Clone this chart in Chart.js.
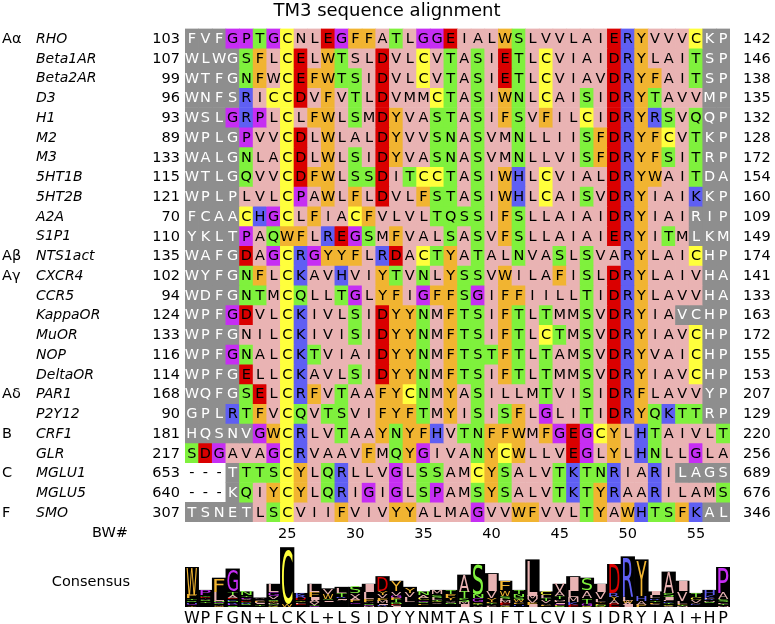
<!DOCTYPE html>
<html>
<head>
<meta charset="utf-8">
<title>TM3 sequence alignment</title>
<script src="https://cdn.jsdelivr.net/npm/chart.js@4.4.1/dist/chart.umd.min.js"></script>
<style>
    body { margin: 0; background: #fff; }
    #wrap { position: relative; width: 775px; height: 624px; }
    canvas { position: absolute; left: 0; top: 0; }
</style>
</head>
<body>
<div id="wrap">
    <canvas id="alignChart" width="775" height="624"></canvas>
    <canvas id="logoChart" width="775" height="624"></canvas>
</div>
<script>
// Alignment data
const receptors = ['RHO', 'Beta1AR', 'Beta2AR', 'D3', 'H1', 'M2', 'M3', '5HT1B', '5HT2B', 'A2A', 'S1P1',
    'NTS1act', 'CXCR4', 'CCR5', 'KappaOR', 'MuOR', 'NOP', 'DeltaOR', 'PAR1', 'P2Y12', 'CRF1', 'GLR',
    'MGLU1', 'MGLU5', 'SMO'];
const families = ['Aα', '', '', '', '', '', '', '', '', '', '', 'Aβ', 'Aγ', '', '', '', '', '', 'Aδ', '',
    'B', '', 'C', '', 'F'];
const startRes = [103, 107, 99, 96, 93, 89, 133, 115, 121, 70, 110, 135, 102, 94, 124, 133, 116, 114, 168, 90,
    181, 217, 653, 640, 307];
const endRes = [142, 146, 138, 135, 132, 128, 172, 154, 160, 109, 149, 174, 141, 133, 163, 172, 155, 153, 207, 129,
    220, 256, 689, 676, 346];
const sequences = [
    'FVFGPTGCNLEGFFATLGGEIALWSLVVLAIERYVVVCKP',
    'WLWGSFLCELWTSLDVLCVTASIETLCVIAIDRYLAITSP',
    'WTFGNFWCEFWTSIDVLCVTASIETLCVIAVDRYFAITSP',
    'WNFSRICCDVFVTLDVMMCTASIWNLCAISIDRYTAVVMP',
    'WSLGRPLCLFWLSMDYVASTASIFSVFILCIDRYRSVQQP',
    'WPLGPVVCDLWLALDYVVSNASVMNLLIISFDRYFCVTKP',
    'WALGNLACDLWLSIDYVASNASVMNLLVISFDRYFSITRP',
    'WTLGQVVCDFWLSSDITCCTASIWHLCVIALDRYWAITDA',
    'WPLPLVLCPAWLFLDVLFSTASIWHLCAISVDRYIAIKKP',
    'FCAACHGCLFIACFVLVLTQSSIFSLLAIAIDRYIAIRIP',
    'YKLTPAQWFLREGSMFVALSASVFSLLAIAIERYITMLKM',
    'WAFGDAGCRGYYFLRDACTYATALNVASLSVARYLAICHP',
    'WYFGNFLCKAVHVIYTVNLYSSVWILAFISLDRYLAIVHA',
    'WDFGNTMCQLLTGLYFIGFFSGIFFIILLTIDRYLAVVHA',
    'WPFGDVLCKIVLSIDYYNMFTSIFTLTMMSVDRYIAVCHP',
    'WPFGNILCKIVISIDYYNMFTSIFTLCTMSVDRYIAVCHP',
    'WPFGNALCKTVIAIDYYNMFTSTFTLTAMSVDRYVAICHP',
    'WPFGELLCKAVLSIDYYNMFTSIFTLTMMSVDRYIAVCHP',
    'WQFGSELCRFVTAAFYCNMYASILLMTVISIDRFLAVVYP',
    'GPLRTFVCQVTSVIFYFTMYISISFLGLITIDRYQKTTRP',
    'HQSNVGWCRLVTAAYNYFHVTNFFWMFGEGCYLHTAIVLT',
    'SDGAVAGCRVAAVFMQYGIVANYCWLLVEGLYLHNLLGLA',
    '---TTTSCYLQRLLVGLSSAMCYSALVTKTNRIARILAGS',
    '---KQIYCYLQRIGIGLSPAMSYSALVTKTYRAARILAMS',
    'TSNETLSCVIIFVIVYYALMAGVVWFVVLTYAWHTSFKAL'
];
// g = unaligned (grey), z = residue class colour, p = uncoloured, . = gap
const shading = [
    'gggzzzzzpz zzzzzzzzzz zzzzzzzzzz zzzzzzzzgg',
    'ggggzzzzzz zzpzzzzzzz zzzzzzzzzz zzzzzzzzgg',
    'ggggzzpzzz zzzzzzzzzz zzzzzzzzzz zzzzzzzzgg',
    'ggggzzzzzz zzzzzzzzzz zzzzzzzzzz zzzzzzzzgg',
    'gggzzzzzzz zzzzzzzzzz zzzzzzzzzz zzzzzzzzgg',
    'ggggzzzzzz zzzzzzzzzz zzzzzzzzzz zzzzzzzzgg',
    'ggggzzzzzz zzzzzzzzzz zzzzzzzzzz zzzzzzzzgg',
    'ggggzzzzzz zzzzzzzzzz zzzzzzzzzz zzzzzzzzgg',
    'ggggzzzzzz zzzzzzzzzz zzzzzzzzzz zzzzzzzzgg',
    'ggggzzzzzz zzzzzzzzzz zzzzzzzzzz zzzzzzzggg',
    'ggggzzzzzz zzzzzzzzzz zzzzzzzzzz zzzzzzzggg',
    'ggggzzzzzz zzzzzzzzzz zzzzzzzzzz zzzzzzzzgg',
    'ggggzzzzzz zzzzzzzzzz zzzzzzzzzz zzzzzzzzgg',
    'ggggzzzzzz zzzzzzzzzz zzzzzzzzzz zzzzzzzzgg',
    'gggzzzzzzz zzzzzzzzzz zzzzzzzzzz zzzzzzgggg',
    'ggggpzzzzz zzzzzzzzzz zzzzzzzzzz zzzzzzzzgg',
    'gggzzzzzzz zzzzzzzzzz zzzzzzzzzz zzzzzzzzgg',
    'ggggzzzzzz zzzzzzzzzz zzzzzzzzzz zzzzzzzzgg',
    'ggggzzzzzz zzzzzzzzzz zzzzzzzzzz zzzzzzzzgg',
    'gggzzzzzzz zzzzzzzzzz zzzzzzzzzz zzzzzzzzgg',
    'gggggzzzzz zzzzzzzzzz zzzzzzzzzz zzzzzzzzzz',
    'zzzzzzzzzz zzzzzzzzzz zzzzzzzzzz zzzzzzzzzz',
    '...gzzzzzz zzzzzzzzzz zzzzzzzzzz zzzzzzgggg',
    '...gzzzzzz zzzzzzzzzz zzzzzzzzzz zzzzzzzzzz',
    'gggggzzzzz zzzzzzzzzz zzzzzzzzzz zzzzzzzzgg'
].map(s => s.replace(/ /g, ''));

// Ballesteros-Weinstein positions 3.18 - 3.57
const bwNumbers = [18, 19, 20, 21, 22, 23, 24, 25, 26, 27, 28, 29, 30, 31, 32, 33, 34, 35, 36, 37,
    38, 39, 40, 41, 42, 43, 44, 45, 46, 47, 48, 49, 50, 51, 52, 53, 54, 55, 56, 57];
const bwTicks = [25, 30, 35, 40, 45, 50, 55];

// Consensus logo
const consensus = ['W', 'P', 'F', 'G', 'N', '+', 'L', 'C', 'K', 'L', '+', 'L', 'S', 'I', 'D', 'Y', 'Y', 'N', 'M', 'T',
    'A', 'S', 'I', 'F', 'T', 'L', 'C', 'V', 'I', 'S', 'I', 'D', 'R', 'Y', 'I', 'A', 'I', '+', 'H', 'P'];
const logoHeights = [2.6, 1.1, 1.9, 2.5, 1.0, 0.6, 1.5, 3.9, 0.9, 1.5, 1.2, 1.3, 1.3, 1.5, 2.0, 1.7, 1.3, 1.0, 1.1, 1.1,
    2.1, 2.8, 2.2, 1.7, 1.1, 3.1, 1.0, 1.5, 2.0, 1.9, 1.5, 2.8, 3.3, 3.1, 1.0, 2.3, 1.7, 0.9, 1.1, 2.6];

// Colours
const cellColors = {
    pink: '#e9b3b3',
    orange: '#f1b431',
    blue: '#5f5ff3',
    red: '#da0000',
    green: '#7ff13d',
    magenta: '#c62ef3',
    yellow: '#ffff3c',
    grey: '#8e8e8e'
};
const residueClass = {
    I: 'pink', L: 'pink', V: 'pink', A: 'pink', M: 'pink',
    F: 'orange', W: 'orange', Y: 'orange',
    K: 'blue', R: 'blue', H: 'blue',
    D: 'red', E: 'red',
    S: 'green', T: 'green', N: 'green', Q: 'green',
    P: 'magenta', G: 'magenta',
    C: 'yellow'
};
const FONT = '"DejaVu Sans", sans-serif';

function cellFill(res, code) {
    if (res === '-' || code === '.') return 'rgba(0,0,0,0)';
    if (code === 'g') return cellColors.grey;
    if (code === 'p') return cellColors.pink;
    return cellColors[residueClass[res]] || cellColors.pink;
}

// Residue letters and row labels
const alignText = {
    id: 'alignText',
    afterDatasetsDraw(chart) {
        const { ctx, scales: { x, y } } = chart;
        ctx.save();
        ctx.textBaseline = 'middle';

        ctx.font = '14.5px ' + FONT;
        ctx.textAlign = 'center';
        sequences.forEach((seq, r) => {
            const yc = y.getPixelForValue(r + 0.5) + 1;
            seq.split('').forEach((res, c) => {
                ctx.fillStyle = shading[r][c] === 'g' ? '#fff' : '#000';
                ctx.fillText(res, x.getPixelForValue(c), yc);
            });
        });

        receptors.forEach((name, r) => {
            const yc = y.getPixelForValue(r + 0.5) + 1;
            ctx.fillStyle = '#000';
            ctx.font = '14.5px ' + FONT;
            ctx.textAlign = 'left';
            if (families[r]) ctx.fillText(families[r], 2, yc);
            ctx.fillText(String(endRes[r]), 743, yc);
            ctx.textAlign = 'right';
            ctx.fillText(String(startRes[r]), 180, yc);
            ctx.font = 'italic 14px ' + FONT;
            ctx.textAlign = 'left';
            ctx.fillText(name, 36, yc);
        });

        ctx.font = '18px ' + FONT;
        ctx.textAlign = 'center';
        ctx.fillText('TM3 sequence alignment', 387, 11);

        ctx.font = '14.5px ' + FONT;
        ctx.textAlign = 'right';
        ctx.fillText('BW#', 128, 533);
        ctx.fillText('Consensus', 130, 582);
        ctx.restore();
    }
};

// Stacked, stretched letters inside each logo column
const logoLetters = {
    id: 'logoLetters',
    afterDatasetsDraw(chart) {
        const { ctx, scales: { x, y } } = chart;
        const half = (x.getPixelForValue(1) - x.getPixelForValue(0)) / 2;
        ctx.save();
        ctx.font = '40px ' + FONT;
        consensus.forEach((_, c) => {
            const counts = {};
            sequences.forEach(s => {
                const a = s[c];
                if (a !== '-') counts[a] = (counts[a] || 0) + 1;
            });
            const total = Object.values(counts).reduce((a, b) => a + b, 0);
            const order = Object.keys(counts).sort((a, b) => counts[a] - counts[b]);
            let base = 0;
            order.forEach(a => {
                const h = logoHeights[c] * counts[a] / total;
                const yb = y.getPixelForValue(base);
                const yt = y.getPixelForValue(base + h);
                base += h;
                if (yb - yt < 0.8) return;
                const m = ctx.measureText(a);
                const gw = m.actualBoundingBoxLeft + m.actualBoundingBoxRight;
                const gh = m.actualBoundingBoxAscent + m.actualBoundingBoxDescent;
                const xl = x.getPixelForValue(c) - half + 1.5;
                ctx.save();
                ctx.translate(xl, yt);
                ctx.scale((2 * half - 3) / gw, (yb - yt) / gh);
                ctx.fillStyle = cellColors[residueClass[a]];
                ctx.fillText(a, m.actualBoundingBoxLeft, m.actualBoundingBoxAscent);
                ctx.restore();
            });
        });
        ctx.restore();
    }
};

const alignChart = new Chart(document.getElementById('alignChart'), {
    type: 'bar',
    data: {
        labels: bwNumbers.map(String),
        datasets: receptors.map((name, r) => ({
            label: name,
            data: sequences[r].split('').map(() => 1),
            backgroundColor: sequences[r].split('').map((res, c) => cellFill(res, shading[r][c])),
            borderWidth: 0,
            barPercentage: 1,
            categoryPercentage: 1,
            stack: 'tm3'
        }))
    },
    options: {
        responsive: false,
        animation: false,
        layout: { padding: { left: 185, right: 45, top: 28.5, bottom: 72 } },
        plugins: { legend: { display: false }, tooltip: { enabled: false }, title: { display: false } },
        scales: {
            x: {
                stacked: true,
                grid: { display: false, drawTicks: false },
                border: { display: false },
                ticks: {
                    autoSkip: false,
                    maxRotation: 0,
                    padding: 4,
                    color: '#000',
                    font: { family: FONT, size: 14.5 },
                    callback: (v) => (bwTicks.includes(bwNumbers[v]) ? String(bwNumbers[v]) : '')
                },
                afterFit: (s) => { s.height = 30; }
            },
            y: { stacked: true, reverse: true, min: 0, max: receptors.length, display: false }
        }
    },
    plugins: [alignText]
});

const logoChart = new Chart(document.getElementById('logoChart'), {
    type: 'bar',
    data: {
        labels: consensus,
        datasets: [{
            data: logoHeights,
            backgroundColor: '#000',
            borderWidth: 0,
            barPercentage: 1,
            categoryPercentage: 1
        }]
    },
    options: {
        responsive: false,
        animation: false,
        layout: { padding: { left: 185, right: 45, top: 546, bottom: 0 } },
        plugins: { legend: { display: false }, tooltip: { enabled: false } },
        scales: {
            x: {
                grid: { display: false, drawTicks: false },
                border: { display: false },
                ticks: { autoSkip: false, maxRotation: 0, padding: 2, color: '#000', font: { family: FONT, size: 16 } },
                afterFit: (s) => { s.height = 17; }
            },
            y: { min: 0, max: 4, display: false }
        }
    },
    plugins: [logoLetters]
});
</script>
</body>
</html>
